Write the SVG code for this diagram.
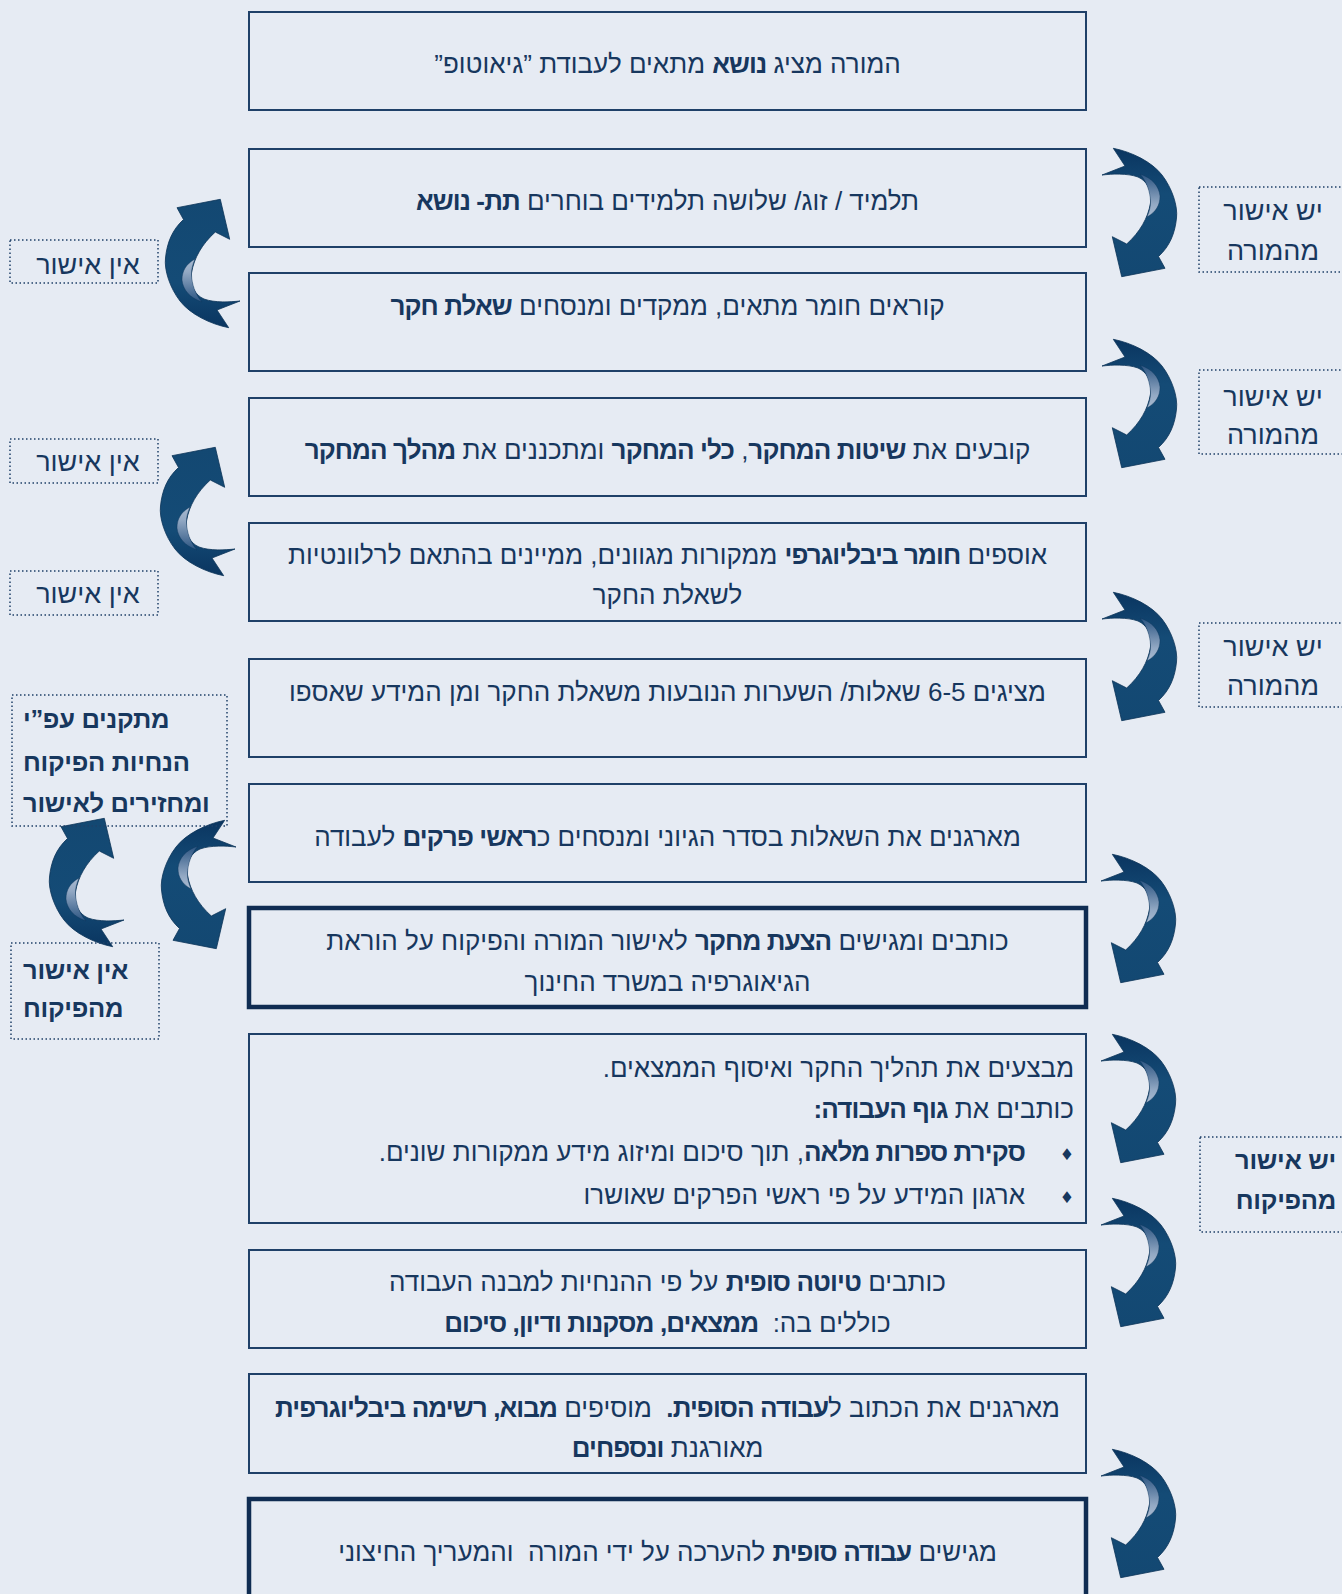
<svg xmlns="http://www.w3.org/2000/svg" xmlns:xlink="http://www.w3.org/1999/xlink" width="1342" height="1594" viewBox="0 0 1342 1594">
<defs>
<style>
.bg{fill:#E6EBF3}
.box{fill:none;stroke:#1F4068;stroke-width:2}
.thick{fill:none;stroke:#0F2C52;stroke-width:4.5}
.dot{fill:none;stroke:#1F4068;stroke-width:1.5;stroke-dasharray:1.5 2.5}
.t{font-family:"Liberation Sans","DejaVu Sans",sans-serif;font-size:26px;fill:#17375E}
.l{font-family:"Liberation Sans","DejaVu Sans",sans-serif;font-size:27px;fill:#17375E}
.lb{font-family:"Liberation Sans","DejaVu Sans",sans-serif;font-size:25.5px;font-weight:bold;fill:#17375E;letter-spacing:-0.3px}
.b{font-weight:bold;letter-spacing:-0.9px}
.dia{font-family:"DejaVu Sans",sans-serif;font-size:16px;fill:#17375E}
</style>
<linearGradient id="gMain" x1="0" y1="0" x2="0" y2="1">
<stop offset="0" stop-color="#0A3560"/>
<stop offset="0.35" stop-color="#144B76"/>
<stop offset="1" stop-color="#134872"/>
</linearGradient>
<linearGradient id="gLight" x1="0" y1="0" x2="0" y2="1">
<stop offset="0" stop-color="#2C5582"/>
<stop offset="0.7" stop-color="#93A9C4"/>
<stop offset="1" stop-color="#A9BAD0"/>
</linearGradient>
<g id="arr">
<path d="M11.3,0.3 C30,4 50,14 60,27 C70,40 76,58 74.5,70 C73,85 68,98 56.5,108.5 L63,120.3 L19.7,128.7 L10.3,88.7 L24.7,96 C38,84 46,70 48.5,55 C50,42 45,33 36,29 C25,25 10,26 0,27 L23,18 Z" fill="url(#gMain)" stroke="#0B3358" stroke-width="0.8"/>
<path d="M38,26 C50,30 57,38 58,48 C58,57 54,64 45,69 C47.5,63 48.8,58 48.5,53 C48,44 45,34 38,26 Z" fill="url(#gLight)" stroke="#0B3358" stroke-width="0.4"/>
</g>
</defs>
<rect class="bg" x="0" y="0" width="1342" height="1594"/>

<g id="connectors">
<use xlink:href="#arr" transform="translate(1102,148)"/>
<use xlink:href="#arr" transform="translate(1102,339)"/>
<use xlink:href="#arr" transform="translate(1102,592)"/>
<use xlink:href="#arr" transform="translate(1101,854)"/>
<use xlink:href="#arr" transform="translate(1101,1034)"/>
<use xlink:href="#arr" transform="translate(1101,1198)"/>
<use xlink:href="#arr" transform="translate(1101,1449)"/>
<use xlink:href="#arr" transform="translate(240,328) rotate(180)"/>
<use xlink:href="#arr" transform="translate(235,576) rotate(180)"/>
<use xlink:href="#arr" transform="translate(124,947) rotate(180)"/>
<use xlink:href="#arr" transform="translate(236,820) scale(-1,1)"/>
</g>

<g id="n1"><rect class="box" x="249" y="12" width="837" height="98"/>
<text class="t" x="667.5" y="73" direction="rtl" text-anchor="middle">המורה מציג <tspan class="b">נושא</tspan> מתאים לעבודת ”גיאוטופ”</text></g>

<g id="n2"><rect class="box" x="249" y="149" width="837" height="98"/>
<text class="t" x="667.5" y="210" direction="rtl" text-anchor="middle">תלמיד / זוג/ שלושה תלמידים בוחרים <tspan class="b">תת- נושא</tspan></text></g>

<g id="n3"><rect class="box" x="249" y="273" width="837" height="98"/>
<text class="t" x="667.5" y="315" direction="rtl" text-anchor="middle">קוראים חומר מתאים, ממקדים ומנסחים <tspan class="b">שאלת חקר</tspan></text></g>

<g id="n4"><rect class="box" x="249" y="398" width="837" height="98"/>
<text class="t" x="667.5" y="459" direction="rtl" text-anchor="middle">קובעים את <tspan class="b">שיטות המחקר</tspan>, <tspan class="b">כלי המחקר</tspan> ומתכננים את <tspan class="b">מהלך המחקר</tspan></text></g>

<g id="n5"><rect class="box" x="249" y="523" width="837" height="98"/>
<text class="t" x="667.5" y="564" direction="rtl" text-anchor="middle">אוספים <tspan class="b">חומר ביבליוגרפי</tspan> ממקורות מגוונים, ממיינים בהתאם לרלוונטיות</text>
<text class="t" x="667.5" y="604" direction="rtl" text-anchor="middle">לשאלת החקר</text></g>

<g id="n6"><rect class="box" x="249" y="659" width="837" height="98"/>
<text class="t" x="667.5" y="701" direction="rtl" text-anchor="middle">מציגים 6-5 שאלות/ השערות הנובעות משאלת החקר ומן המידע שאספו</text></g>

<g id="n7"><rect class="box" x="249" y="784" width="837" height="98"/>
<text class="t" x="667.5" y="846" direction="rtl" text-anchor="middle">מארגנים את השאלות בסדר הגיוני ומנסחים כ<tspan class="b">ראשי פרקים</tspan> לעבודה</text></g>

<g id="n8"><rect class="thick" x="249" y="908" width="837" height="99"/>
<text class="t" x="667.5" y="950" direction="rtl" text-anchor="middle">כותבים ומגישים <tspan class="b">הצעת מחקר</tspan> לאישור המורה והפיקוח על הוראת</text>
<text class="t" x="667.5" y="991" direction="rtl" text-anchor="middle">הגיאוגרפיה במשרד החינוך</text></g>

<g id="n9"><rect class="box" x="249" y="1034" width="837" height="189"/>
<text class="t" x="1074" y="1077" direction="rtl" text-anchor="start">מבצעים את תהליך החקר ואיסוף הממצאים.</text>
<text class="t" x="1074" y="1118" direction="rtl" text-anchor="start">כותבים את <tspan class="b">גוף העבודה:</tspan></text>
<text class="dia" x="1067" y="1160" text-anchor="middle">♦</text>
<text class="t" x="1025" y="1161" direction="rtl" text-anchor="start"><tspan class="b">סקירת ספרות מלאה</tspan>, תוך סיכום ומיזוג מידע ממקורות שונים.</text>
<text class="dia" x="1067" y="1203" text-anchor="middle">♦</text>
<text class="t" x="1025" y="1204" direction="rtl" text-anchor="start">ארגון המידע על פי ראשי הפרקים שאושרו</text></g>

<g id="n10"><rect class="box" x="249" y="1250" width="837" height="98"/>
<text class="t" x="667.5" y="1291" direction="rtl" text-anchor="middle">כותבים <tspan class="b">טיוטה סופית</tspan> על פי ההנחיות למבנה העבודה</text>
<text class="t" x="667.5" y="1332" direction="rtl" text-anchor="middle">כוללים בה:&#160; <tspan class="b">ממצאים, מסקנות ודיון, סיכום</tspan></text></g>

<g id="n11"><rect class="box" x="249" y="1374" width="837" height="99"/>
<text class="t" x="667.5" y="1417" direction="rtl" text-anchor="middle">מארגנים את הכתוב ל<tspan class="b">עבודה הסופית.</tspan>&#160; מוסיפים <tspan class="b">מבוא, רשימה ביבליוגרפית</tspan></text>
<text class="t" x="667.5" y="1457" direction="rtl" text-anchor="middle">מאורגנת <tspan class="b">ונספחים</tspan></text></g>

<g id="n12"><rect class="thick" x="249" y="1499" width="837" height="130"/>
<text class="t" x="667.5" y="1561" direction="rtl" text-anchor="middle">מגישים <tspan class="b">עבודה סופית</tspan> להערכה על ידי המורה&#160; והמעריך החיצוני</text></g>

<g id="r1"><rect class="dot" x="1199" y="187" width="150" height="85"/>
<text class="l" x="1273" y="220" direction="rtl" text-anchor="middle">יש אישור</text>
<text class="l" x="1273" y="260" direction="rtl" text-anchor="middle">מהמורה</text></g>

<g id="r2"><rect class="dot" x="1199" y="370" width="150" height="84"/>
<text class="l" x="1273" y="406" direction="rtl" text-anchor="middle">יש אישור</text>
<text class="l" x="1273" y="444" direction="rtl" text-anchor="middle">מהמורה</text></g>

<g id="r3"><rect class="dot" x="1199" y="623" width="150" height="84"/>
<text class="l" x="1273" y="656" direction="rtl" text-anchor="middle">יש אישור</text>
<text class="l" x="1273" y="695" direction="rtl" text-anchor="middle">מהמורה</text></g>

<g id="r4"><rect class="dot" x="1200" y="1137" width="150" height="95"/>
<text class="lb" x="1336" y="1169" direction="rtl" text-anchor="start">יש אישור</text>
<text class="lb" x="1336" y="1209" direction="rtl" text-anchor="start">מהפיקוח</text></g>

<g id="l1"><rect class="dot" x="10" y="240" width="148" height="43"/>
<text class="l" x="88" y="274" direction="rtl" text-anchor="middle">אין אישור</text></g>

<g id="l2"><rect class="dot" x="10" y="439" width="148" height="44"/>
<text class="l" x="88" y="471" direction="rtl" text-anchor="middle">אין אישור</text></g>

<g id="l3"><rect class="dot" x="10" y="571" width="148" height="44"/>
<text class="l" x="88" y="603" direction="rtl" text-anchor="middle">אין אישור</text></g>

<g id="l4"><rect class="dot" x="12" y="695" width="215" height="131"/>
<text class="lb" x="23" y="728" direction="rtl" text-anchor="end">מתקנים עפ”י</text>
<text class="lb" x="23" y="771" direction="rtl" text-anchor="end">הנחיות הפיקוח</text>
<text class="lb" x="23" y="812" direction="rtl" text-anchor="end">ומחזירים לאישור</text></g>

<g id="l5"><rect class="dot" x="11" y="943" width="148" height="96"/>
<text class="lb" x="23" y="979" direction="rtl" text-anchor="end">אין אישור</text>
<text class="lb" x="23" y="1017" direction="rtl" text-anchor="end">מהפיקוח</text></g>
</svg>
